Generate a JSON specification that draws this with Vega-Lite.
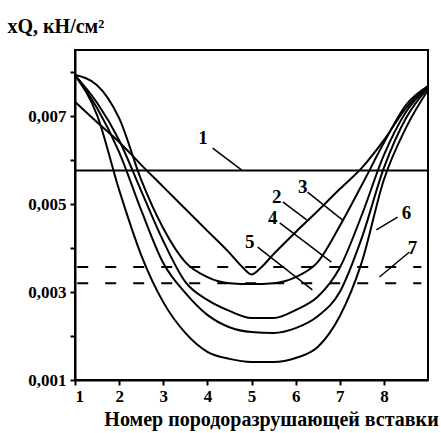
{
  "$schema": "https://vega.github.io/schema/vega-lite/v6.json",
  "width": 353,
  "height": 330,
  "autosize": {"type": "none"},
  "padding": {"left": 75, "top": 50, "right": 13, "bottom": 53},
  "background": "white",
  "config": {"view": {"stroke": "black", "strokeWidth": 2}, "font": "Liberation Serif"},
  "datasets": {
    "curves": [
      {"c": "2", "x": 1, "y": 0.00732}, {"c": "2", "x": 1.5, "y": 0.00686}, {"c": "2", "x": 2, "y": 0.00641}, {"c": "2", "x": 2.5, "y": 0.00589},
      {"c": "2", "x": 3, "y": 0.00539}, {"c": "2", "x": 3.5, "y": 0.00489}, {"c": "2", "x": 4, "y": 0.00439}, {"c": "2", "x": 4.5, "y": 0.00389},
      {"c": "2", "x": 4.8, "y": 0.00356}, {"c": "2", "x": 5, "y": 0.0034}, {"c": "2", "x": 5.2, "y": 0.00354}, {"c": "2", "x": 5.5, "y": 0.00386}, {"c": "2", "x": 6, "y": 0.00436}, {"c": "2", "x": 6.5, "y": 0.00484},
      {"c": "2", "x": 7, "y": 0.00534}, {"c": "2", "x": 7.5, "y": 0.00582}, {"c": "2", "x": 8, "y": 0.00645}, {"c": "2", "x": 8.5, "y": 0.00718},
      {"c": "2", "x": 9, "y": 0.00768},
      {"c": "3", "x": 1, "y": 0.00793}, {"c": "3", "x": 1.5, "y": 0.0077}, {"c": "3", "x": 2, "y": 0.00695}, {"c": "3", "x": 2.5, "y": 0.00555},
      {"c": "3", "x": 3, "y": 0.00445}, {"c": "3", "x": 3.5, "y": 0.00368}, {"c": "3", "x": 4, "y": 0.00334}, {"c": "3", "x": 4.5, "y": 0.0032},
      {"c": "3", "x": 5, "y": 0.00318}, {"c": "3", "x": 5.5, "y": 0.0032}, {"c": "3", "x": 6, "y": 0.00334}, {"c": "3", "x": 6.5, "y": 0.00368},
      {"c": "3", "x": 7, "y": 0.0045}, {"c": "3", "x": 7.5, "y": 0.00543}, {"c": "3", "x": 8, "y": 0.00639}, {"c": "3", "x": 8.5, "y": 0.00725},
      {"c": "3", "x": 9, "y": 0.00768},
      {"c": "4", "x": 1, "y": 0.00793}, {"c": "4", "x": 1.5, "y": 0.0073}, {"c": "4", "x": 2, "y": 0.00645}, {"c": "4", "x": 2.5, "y": 0.0053},
      {"c": "4", "x": 3, "y": 0.00416}, {"c": "4", "x": 3.5, "y": 0.00323}, {"c": "4", "x": 4, "y": 0.00282}, {"c": "4", "x": 4.5, "y": 0.00257},
      {"c": "4", "x": 5, "y": 0.00241}, {"c": "4", "x": 5.5, "y": 0.00241}, {"c": "4", "x": 6, "y": 0.00259}, {"c": "4", "x": 6.5, "y": 0.00289},
      {"c": "4", "x": 7, "y": 0.00355}, {"c": "4", "x": 7.5, "y": 0.00475}, {"c": "4", "x": 8, "y": 0.00611}, {"c": "4", "x": 8.5, "y": 0.00709},
      {"c": "4", "x": 9, "y": 0.00766},
      {"c": "5", "x": 1, "y": 0.00793}, {"c": "5", "x": 1.5, "y": 0.00718}, {"c": "5", "x": 2, "y": 0.00618}, {"c": "5", "x": 2.5, "y": 0.00486},
      {"c": "5", "x": 3, "y": 0.00366}, {"c": "5", "x": 3.5, "y": 0.00298}, {"c": "5", "x": 4, "y": 0.00248}, {"c": "5", "x": 4.5, "y": 0.0022},
      {"c": "5", "x": 5, "y": 0.00209}, {"c": "5", "x": 5.5, "y": 0.00207}, {"c": "5", "x": 6, "y": 0.00218}, {"c": "5", "x": 6.5, "y": 0.00245},
      {"c": "5", "x": 7, "y": 0.003}, {"c": "5", "x": 7.5, "y": 0.00423}, {"c": "5", "x": 8, "y": 0.00582}, {"c": "5", "x": 8.5, "y": 0.00695},
      {"c": "5", "x": 9, "y": 0.00764},
      {"c": "6", "x": 1, "y": 0.00793}, {"c": "6", "x": 1.5, "y": 0.00702}, {"c": "6", "x": 2, "y": 0.00532}, {"c": "6", "x": 2.5, "y": 0.00384},
      {"c": "6", "x": 3, "y": 0.00277}, {"c": "6", "x": 3.5, "y": 0.00207}, {"c": "6", "x": 4, "y": 0.00164}, {"c": "6", "x": 4.5, "y": 0.00148},
      {"c": "6", "x": 5, "y": 0.00141}, {"c": "6", "x": 5.5, "y": 0.00141}, {"c": "6", "x": 6, "y": 0.0015}, {"c": "6", "x": 6.5, "y": 0.00175},
      {"c": "6", "x": 7, "y": 0.00245}, {"c": "6", "x": 7.5, "y": 0.00368}, {"c": "6", "x": 8, "y": 0.00555}, {"c": "6", "x": 8.5, "y": 0.00673},
      {"c": "6", "x": 9, "y": 0.00759}
    ],
    "line1": [{"x": 1, "y": 0.00576}, {"x": 9, "y": 0.00576}],
    "dash": [
      {"s": "a", "x": 1.05, "y": 0.00357}, {"s": "a", "x": 8.85, "y": 0.00357},
      {"s": "b", "x": 1.05, "y": 0.0032}, {"s": "b", "x": 8.85, "y": 0.0032}
    ],
    "labels": [
      {"t": "1", "x": 3.9, "y": 0.0065},
      {"t": "2", "x": 5.57, "y": 0.00516},
      {"t": "3", "x": 6.16, "y": 0.00539},
      {"t": "4", "x": 5.48, "y": 0.00468},
      {"t": "5", "x": 4.96, "y": 0.00414},
      {"t": "6", "x": 8.51, "y": 0.0048},
      {"t": "7", "x": 8.65, "y": 0.004}
    ],
    "leaders": [
      {"x": 4.12, "y": 0.00627, "x2": 4.78, "y2": 0.00577},
      {"x": 5.71, "y": 0.00505, "x2": 6.25, "y2": 0.00464},
      {"x": 6.27, "y": 0.00527, "x2": 7.06, "y2": 0.00464},
      {"x": 5.64, "y": 0.00457, "x2": 6.81, "y2": 0.00368},
      {"x": 5.14, "y": 0.00402, "x2": 6.38, "y2": 0.00305},
      {"x": 8.31, "y": 0.0047, "x2": 7.83, "y2": 0.00441},
      {"x": 8.58, "y": 0.00391, "x2": 7.9, "y2": 0.00334}
    ]
  },
  "layer": [
    {
      "data": {"name": "curves"},
      "mark": {"type": "line", "color": "black", "strokeWidth": 2, "interpolate": "monotone"},
      "encoding": {
        "x": {
          "field": "x", "type": "quantitative",
          "scale": {"domain": [1, 9], "nice": false, "zero": false},
          "axis": {
            "values": [1, 2, 3, 4, 5, 6, 7, 8],
            "grid": false, "domainColor": "black", "domainWidth": 2, "tickColor": "black", "tickWidth": 2, "tickSize": 5,
            "labelFont": "Liberation Serif", "labelFontWeight": "bold", "labelFontSize": 17, "labelColor": "black", "labelPadding": 3,
            "title": "Номер породоразрушающей вставки",
            "titleFont": "Liberation Serif", "titleFontWeight": "bold", "titleFontSize": 20, "titleColor": "black",
            "titleX": 196, "titleY": 45, "titleAlign": "center", "titleBaseline": "alphabetic"
          }
        },
        "y": {
          "field": "y", "type": "quantitative",
          "scale": {"domain": [0.001, 0.0085], "nice": false, "zero": false},
          "axis": {
            "values": [0.001, 0.002, 0.003, 0.004, 0.005, 0.006, 0.007, 0.008],
            "labelExpr": "round(datum.value*1000) % 2 == 1 ? replace(format(datum.value, '.3f'), '.', ',') : ''",
            "grid": false, "domainColor": "black", "domainWidth": 2, "tickColor": "black", "tickWidth": 2, "tickSize": 5,
            "labelFont": "Liberation Serif", "labelFontWeight": "bold", "labelFontSize": 17, "labelColor": "black", "labelPadding": 4,
            "title": "xQ, кН/см²",
            "titleFont": "Liberation Serif", "titleFontWeight": "bold", "titleFontSize": 20, "titleColor": "black",
            "titleAngle": 0, "titleX": -68, "titleY": -18, "titleAlign": "left", "titleBaseline": "alphabetic"
          }
        },
        "detail": {"field": "c"}
      }
    },
    {
      "data": {"name": "line1"},
      "mark": {"type": "line", "color": "black", "strokeWidth": 2},
      "encoding": {
        "x": {"field": "x", "type": "quantitative"},
        "y": {"field": "y", "type": "quantitative"}
      }
    },
    {
      "data": {"name": "dash"},
      "mark": {"type": "line", "color": "black", "strokeWidth": 2, "strokeDash": [11, 17]},
      "encoding": {
        "x": {"field": "x", "type": "quantitative"},
        "y": {"field": "y", "type": "quantitative"},
        "detail": {"field": "s"}
      }
    },
    {
      "data": {"name": "leaders"},
      "mark": {"type": "rule", "color": "black", "strokeWidth": 1.5},
      "encoding": {
        "x": {"field": "x", "type": "quantitative"},
        "y": {"field": "y", "type": "quantitative"},
        "x2": {"field": "x2"},
        "y2": {"field": "y2"}
      }
    },
    {
      "data": {"name": "labels"},
      "mark": {"type": "text", "font": "Liberation Serif", "fontWeight": "bold", "fontSize": 19, "color": "black", "align": "center", "baseline": "middle"},
      "encoding": {
        "x": {"field": "x", "type": "quantitative"},
        "y": {"field": "y", "type": "quantitative"},
        "text": {"field": "t"}
      }
    }
  ]
}
